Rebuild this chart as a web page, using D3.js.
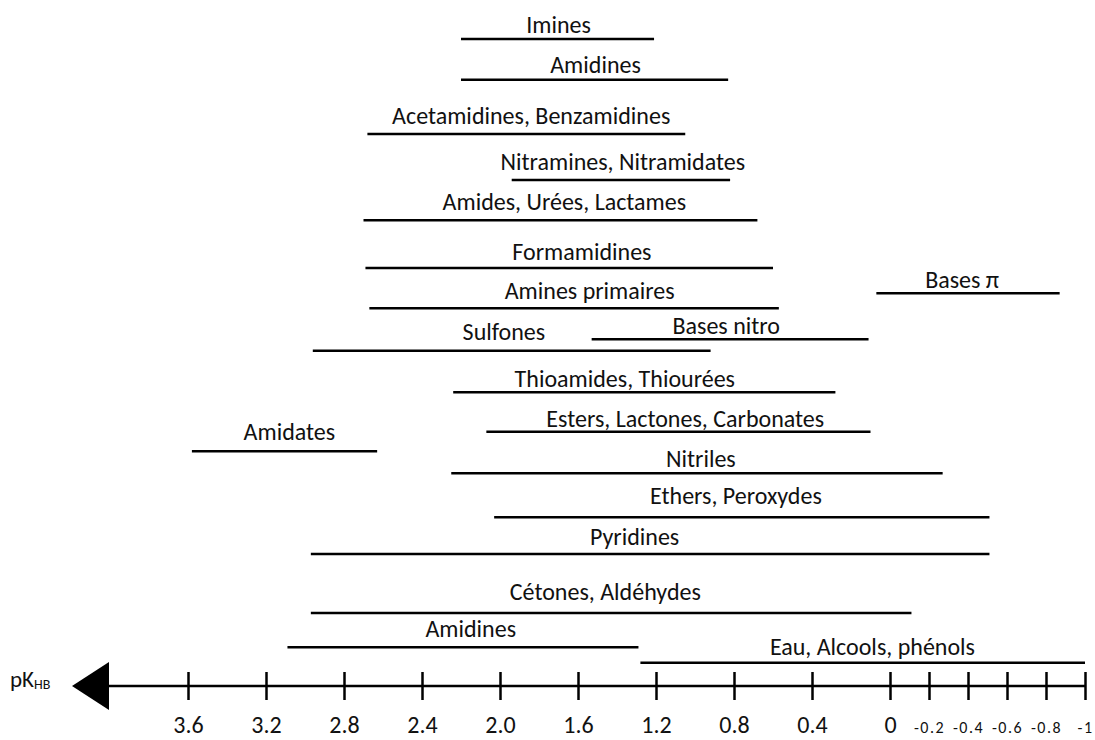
<!DOCTYPE html>
<html>
<head>
<meta charset="utf-8">
<script src="https://cdn.jsdelivr.net/npm/d3@7"></script>
<style>
  body { margin: 0; background: #fff; }
  text { font-family: Calibri, Carlito, Roboto, sans-serif; fill: #111; }
</style>
</head>
<body>
<div id="chart"></div>
<script>
// families of H-bond bases, pKHB range (from high to low)
const families = ["Imines", "Amidines", "Acetamidines, Benzamidines", "Nitramines, Nitramidates",
  "Amides, Urées, Lactames", "Formamidines", "Amines primaires", "Bases π", "Sulfones", "Bases nitro",
  "Thioamides, Thiourées", "Esters, Lactones, Carbonates", "Amidates", "Nitriles", "Ethers, Peroxydes",
  "Pyridines", "Cétones, Aldéhydes", "Amidines", "Eau, Alcools, phénols"]
const pkFrom = [2.2, 2.2, 2.68, 1.94, 2.7, 2.69, 2.67, 0.07, 2.96, 1.53, 2.24, 2.07, 3.58, 2.25, 2.03, 2.97, 2.97, 3.09, 1.28]
const pkTo = [1.21, 0.83, 1.05, 0.82, 0.68, 0.6, 0.57, -0.87, 0.92, 0.11, 0.28, 0.1, 2.63, -0.27, -0.51, -0.51, -0.11, 1.29, -1.0]
// vertical row of each bar and of its label (0 = axis, 100 = top row)
const rowLevel = [100, 93.7, 85.3, 78.2, 72.0, 64.6, 58.4, 60.7, 51.8, 53.6, 45.4, 39.3, 36.3, 32.9, 26.1, 20.4, 11.3, 6.0, 3.6]
const labelLevel = [101, 94.7, 86.8, 79.8, 73.5, 65.9, 59.8, 61.5, 53.5, 54.4, 46.2, 40.0, 38.0, 33.8, 28.1, 21.8, 13.3, 7.5, 4.8]
// label centres, in pKHB
const labelAt = [1.7, 1.51, 1.84, 1.37, 1.67, 1.58, 1.54, -0.37, 1.98, 0.84, 1.36, 1.05, 3.08, 0.97, 0.79, 1.31, 1.46, 2.15, 0.09]

const tickValues = [3.6, 3.2, 2.8, 2.4, 2.0, 1.6, 1.2, 0.8, 0.4, 0, -0.2, -0.4, -0.6, -0.8, -1]
const tickLabels = ["3.6", "3.2", "2.8", "2.4", "2.0", "1.6", "1.2", "0.8", "0.4", "0", "-0.2", "-0.4", "-0.6", "-0.8", "-1"]

const width = 1095
const height = 740

const svg = d3.select("#chart")
  .append("svg")
  .attr("width", width)
  .attr("height", height)

const x = d3.scaleLinear().domain([3.6, -1]).range([188, 1085])
const y = d3.scaleLinear().domain([0, 100]).range([686, 39])

const rows = families.map((f, i) => ({
  name: f, from: pkFrom[i], to: pkTo[i], level: rowLevel[i], labelLevel: labelLevel[i], labelAt: labelAt[i]
}))

svg.selectAll("line.bar")
  .data(rows)
  .enter()
  .append("line")
  .attr("class", "bar")
  .attr("x1", d => x(d.from))
  .attr("x2", d => x(d.to))
  .attr("y1", d => y(d.level))
  .attr("y2", d => y(d.level))
  .style("stroke", "#000")
  .style("stroke-width", 2.5)

svg.selectAll("text.label")
  .data(rows)
  .enter()
  .append("text")
  .attr("class", "label")
  .attr("x", d => x(d.labelAt))
  .attr("y", d => y(d.labelLevel))
  .attr("text-anchor", "middle")
  .style("font-size", "24px")
  .text(d => d.name)

// axis
const axisY = y(0)
const axis = svg.append("g")
  .attr("transform", "translate(0," + axisY + ")")
  .call(d3.axisBottom(x).tickValues(tickValues).tickSize(14)
    .tickFormat((d, i) => tickLabels[i]))

axis.select(".domain").remove()
axis.selectAll(".tick line")
  .attr("y1", -14)
  .attr("y2", 14)
  .style("stroke", "#000")
  .style("stroke-width", 2.5)
axis.selectAll(".tick text")
  .attr("y", 47)
  .attr("dy", null)
  .style("font-family", "Calibri, Carlito, Roboto, sans-serif")
  .style("font-size", d => d < 0 ? "16px" : "24px")
  .style("letter-spacing", d => d < 0 ? "1.5px" : null)
  .style("fill", "#111")

axis.append("line")
  .attr("x1", 105)
  .attr("x2", x(-1))
  .style("stroke", "#000")
  .style("stroke-width", 2.5)

axis.append("path")
  .attr("d", "M72,0 L109,-24 L109,24 Z")
  .style("fill", "#000")

const pk = svg.append("text")
  .attr("x", 10)
  .attr("y", axisY + 1)
  .style("font-size", "23px")
pk.append("tspan").text("pK")
pk.append("tspan")
  .attr("dy", 2)
  .style("font-size", "14px")
  .text("HB")
</script>
</body>
</html>
